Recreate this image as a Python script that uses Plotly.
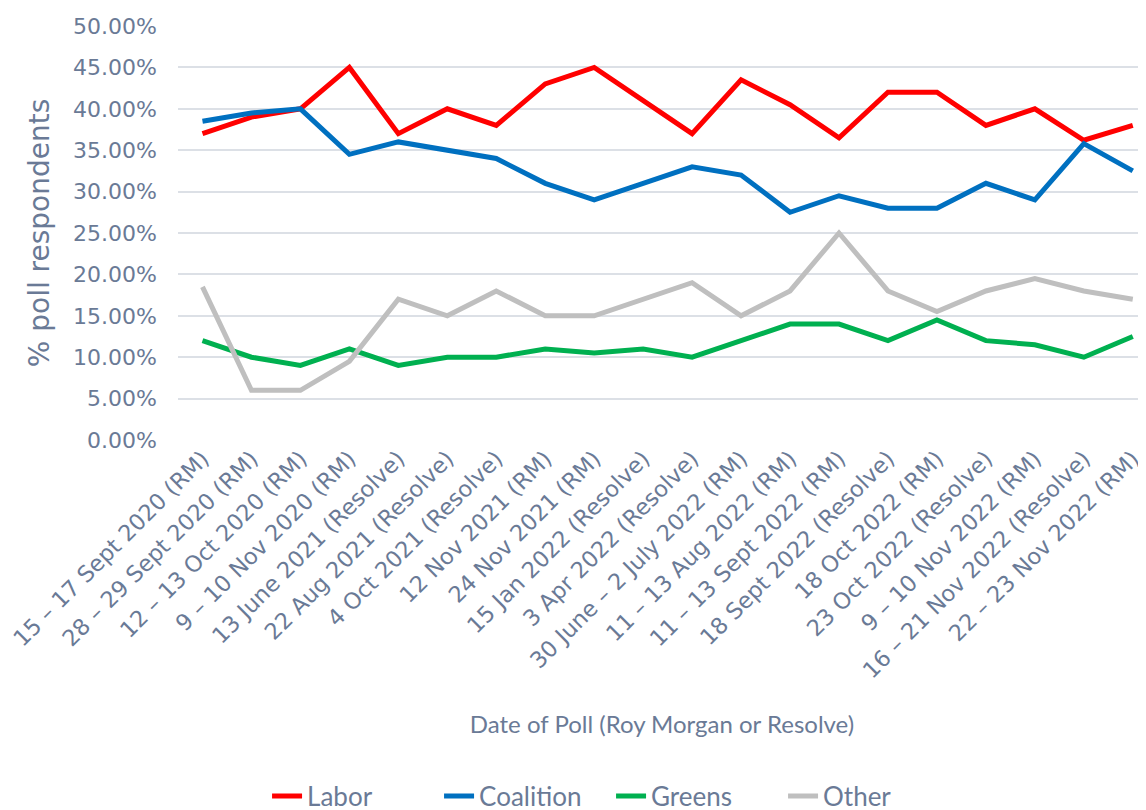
import plotly.graph_objects as go

categories = [
    "15 – 17 Sept 2020 (RM)", "28 – 29 Sept 2020 (RM)", "12 – 13 Oct 2020 (RM)",
    "9 – 10 Nov 2020 (RM)", "13 June 2021 (Resolve)", "22 Aug 2021 (Resolve)",
    "4 Oct 2021 (Resolve)", "12 Nov 2021 (RM)", "24 Nov 2021 (RM)",
    "15 Jan 2022 (Resolve)", "3 Apr 2022 (Resolve)", "30 June – 2 July 2022 (RM)",
    "11 – 13 Aug 2022 (RM)", "11 – 13 Sept 2022 (RM)", "18 Sept 2022 (Resolve)",
    "18 Oct 2022 (RM)", "23 Oct 2022 (Resolve)", "9 – 10 Nov 2022 (RM)",
    "16 – 21 Nov 2022 (Resolve)", "22 – 23 Nov 2022 (RM)",
]
labor = [37, 39, 40, 45, 37, 40, 38, 43, 45, 41, 37, 43.5, 40.5, 36.5, 42, 42, 38, 40, 36.2, 38]
coalition = [38.5, 39.5, 40, 34.5, 36, 35, 34, 31, 29, 31, 33, 32, 27.5, 29.5, 28, 28, 31, 29, 35.8, 32.5]
greens = [12, 10, 9, 11, 9, 10, 10, 11, 10.5, 11, 10, 12, 14, 14, 12, 14.5, 12, 11.5, 10, 12.5]
other = [18.5, 6, 6, 9.5, 17, 15, 18, 15, 15, 17, 19, 15, 18, 25, 18, 15.5, 18, 19.5, 18, 17]

series = [
    ("Labor", labor, "#FF0000"),
    ("Coalition", coalition, "#0070C0"),
    ("Greens", greens, "#00B050"),
    ("Other", other, "#BFBFBF"),
]

TEXT = "#6A7A96"
TICKFONT = "DejaVu Sans"
LABELFONT = "Lato"

fig = go.Figure()
for name, vals, color in series:
    fig.add_trace(go.Scatter(
        x=list(range(len(categories))), y=vals, name=name, mode="lines",
        line=dict(color=color, width=5),
        hovertemplate="%{y:.2f}%<extra>" + name + "</extra>",
    ))

fig.update_layout(
    width=1146, height=830,
    paper_bgcolor="white", plot_bgcolor="white",
    margin=dict(l=170, r=8, t=18, b=398),
    font=dict(family=TICKFONT, color=TEXT, size=18),
    showlegend=True,
    legend=dict(
        orientation="h", x=0.092, xanchor="left", y=-0.860, yanchor="middle",
        font=dict(family=LABELFONT, size=26, color=TEXT), itemwidth=30,
        entrywidth=127, entrywidthmode="pixels", tracegroupgap=0,
    ),
    xaxis=dict(
        tickmode="array", tickvals=list(range(len(categories))), ticktext=categories,
        range=[-0.5, 19.27], tickangle=-45, showgrid=False, zeroline=False,
        showline=False, ticks="", tickfont=dict(family=TICKFONT, size=22.5, color=TEXT),
        ticklabeloverflow="allow",
        title=dict(text="Date of Poll (Roy Morgan or Resolve)", standoff=33,
                   font=dict(family=LABELFONT, size=24, color=TEXT)),
        automargin=False,
    ),
    yaxis=dict(
        range=[0, 50], tickmode="linear", tick0=0, dtick=5,
        tickformat=".2f", ticksuffix="%", showgrid=True, gridcolor="#DCE0E6", gridwidth=1.5,
        zeroline=False, showline=False, ticks="", tickfont=dict(family=TICKFONT, size=22, color=TEXT),
        ticklabelstandoff=20,
        title=dict(text="% poll respondents", font=dict(family=TICKFONT, size=28, color=TEXT)),
        automargin=False,
    ),
)

fig.write_html("out.html")
